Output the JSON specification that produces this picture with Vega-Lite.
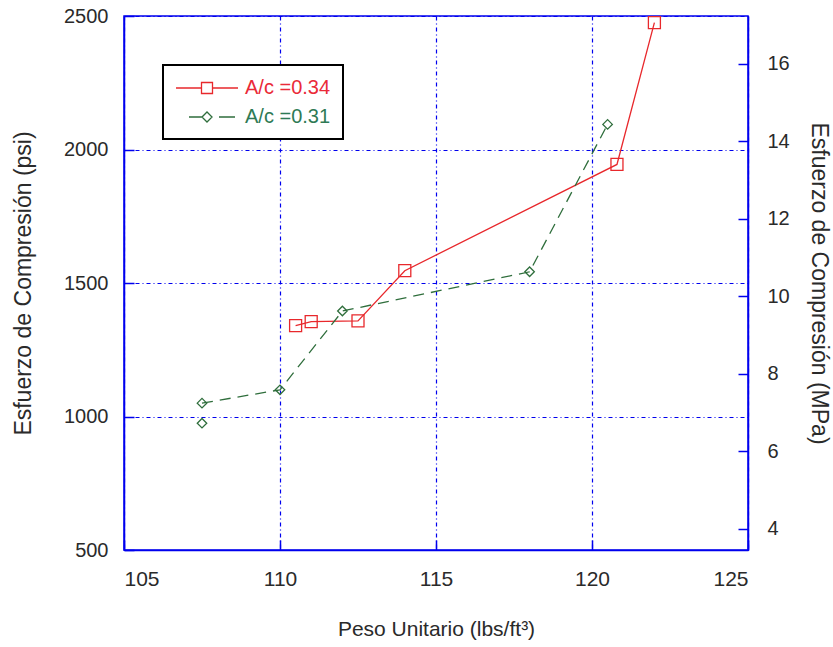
{
  "$schema": "https://vega.github.io/schema/vega-lite/v6.json",
  "width": 624,
  "height": 534,
  "autosize": {"type": "none"},
  "padding": {"left": 124, "top": 16, "right": 85, "bottom": 97},
  "background": "white",
  "config": {
    "view": {"stroke": "#0000ee", "strokeWidth": 1.5},
    "font": "Liberation Sans",
    "axis": {
      "domainColor": "#0000ee", "domainWidth": 1.5,
      "tickColor": "#0000ee", "tickWidth": 1.5,
      "gridColor": "#0000ee", "gridDash": [4, 3, 1, 3], "gridWidth": 1.2, "gridOpacity": 1,
      "labelColor": "#2a2a2a", "titleColor": "#2a2a2a",
      "labelFont": "Liberation Sans", "titleFont": "Liberation Sans", "titleFontWeight": "normal"
    }
  },
  "data": {
    "values": [
      {"serie": "A/c =0.34", "peso": 110.5, "psi": 1340},
      {"serie": "A/c =0.34", "peso": 111.0, "psi": 1355},
      {"serie": "A/c =0.34", "peso": 112.5, "psi": 1358},
      {"serie": "A/c =0.34", "peso": 114.0, "psi": 1546},
      {"serie": "A/c =0.34", "peso": 120.8, "psi": 1944},
      {"serie": "A/c =0.34", "peso": 122.0, "psi": 2475},
      {"serie": "A/c =0.31", "peso": 107.5, "psi": 975},
      {"serie": "A/c =0.31", "peso": 107.5, "psi": 1050},
      {"serie": "A/c =0.31", "peso": 110.0, "psi": 1100},
      {"serie": "A/c =0.31", "peso": 112.0, "psi": 1395},
      {"serie": "A/c =0.31", "peso": 118.0, "psi": 1542},
      {"serie": "A/c =0.31", "peso": 120.5, "psi": 2094}
    ]
  },
  "layer": [
    {
      "layer": [
        {
          "transform": [{"filter": "datum.serie === 'A/c =0.34'"}],
          "mark": {"type": "line", "strokeWidth": 1.3},
          "encoding": {
            "x": {"field": "peso", "type": "quantitative", "scale": {"domain": [105, 125], "nice": false},
              "axis": {"values": [105, 110, 115, 120, 125], "tickSize": -10, "grid": true,
                "labelFontSize": 21, "labelPadding": 28,
                "title": "Peso Unitario  (lbs/ft³)", "titleFontSize": 21, "titlePadding": 29}},
            "y": {"field": "psi", "type": "quantitative", "scale": {"domain": [500, 2500], "nice": false},
              "axis": {"values": [500, 1000, 1500, 2000, 2500], "format": "d", "tickSize": -10, "grid": true,
                "labelFontSize": 20, "labelPadding": 26,
                "title": "Esfuerzo de Compresión  (psi)", "titleFontSize": 23, "titlePadding": 28}},
            "color": {"field": "serie", "type": "nominal",
              "scale": {"domain": ["A/c =0.34", "A/c =0.31"], "range": ["#e8282c", "#2f6e3c"]},
              "legend": {
                "title": null, "orient": "none", "legendX": 39, "legendY": 49,
                "fillColor": "white", "strokeColor": "black", "padding": 12,
                "symbolSize": 400, "symbolStrokeWidth": 1.3, "symbolFillColor": "transparent",
                "symbolOffset": 21, "labelOffset": 27,
                "labelFontSize": 20, "rowPadding": 8, "labelFont": "Liberation Sans",
                "encode": {
                  "legend": {"update": {"strokeWidth": {"value": 2}}},
                  "symbols": {"update": {"shape": {"signal": "datum.value === 'A/c =0.34' ? 'M-3.1,0H-0.55M0.55,0H3.1M-0.55,-0.55H0.55V0.55H-0.55Z' : 'M-1.8,0H-0.5L0,-0.5L0.5,0L0,0.5L-0.5,0M1.2,0H2.8'"}}},
                  "labels": {"update": {"fill": {"signal": "datum.value === 'A/c =0.34' ? '#ea2a38' : '#2e7a55'"}}}
                }
              }}
          }
        },
        {
          "transform": [{"filter": "datum.serie === 'A/c =0.31' && datum.psi != 975"}],
          "mark": {"type": "line", "strokeWidth": 1.3, "strokeDash": [11, 7]},
          "encoding": {
            "x": {"field": "peso", "type": "quantitative"},
            "y": {"field": "psi", "type": "quantitative"},
            "color": {"field": "serie", "type": "nominal"}
          }
        },
        {
          "transform": [{"filter": "datum.serie === 'A/c =0.34'"}],
          "mark": {"type": "point", "filled": false, "strokeWidth": 1.3, "opacity": 1, "shape": "square", "size": 144, "color": "#e8282c"},
          "encoding": {
            "x": {"field": "peso", "type": "quantitative"},
            "y": {"field": "psi", "type": "quantitative"}
          }
        },
        {
          "transform": [{"filter": "datum.serie === 'A/c =0.31'"}],
          "mark": {"type": "point", "filled": false, "strokeWidth": 1.3, "opacity": 1, "shape": "diamond", "size": 90, "color": "#2f6e3c"},
          "encoding": {
            "x": {"field": "peso", "type": "quantitative"},
            "y": {"field": "psi", "type": "quantitative"}
          }
        }
      ]
    },
    {
      "mark": {"type": "point", "opacity": 0},
      "encoding": {
        "x": {"field": "peso", "type": "quantitative"},
        "y": {"field": "psi", "type": "quantitative", "scale": {"domain": [500, 2500], "nice": false},
          "axis": {"orient": "right", "values": [580.15, 870.23, 1160.3, 1450.38, 1740.46, 2030.53, 2320.61],
            "labelExpr": "format(round(datum.value / 145.038), 'd')",
            "tickSize": -10, "grid": false, "labelFontSize": 20, "labelPadding": 29,
            "title": "Esfuerzo de Compresión  (MPa)", "titleFontSize": 23, "titlePadding": 17}}
      }
    }
  ],
  "resolve": {"scale": {"y": "independent"}}
}
